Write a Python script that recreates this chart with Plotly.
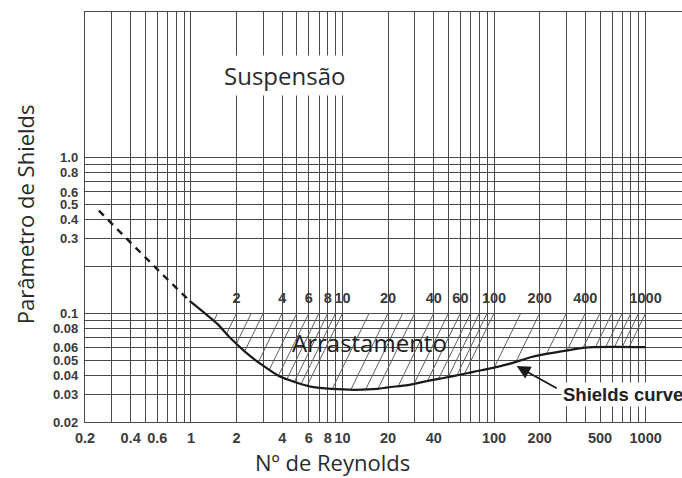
import numpy as np
import plotly.graph_objects as go

# --- Shields curve (critical Shields parameter vs. particle Reynolds number) ---
# dashed, extrapolated part at low Reynolds numbers
dashed_re = [0.247, 0.39, 0.62, 0.98]
dashed_tau = [0.455, 0.29, 0.185, 0.12]

# solid, measured part
curve_re = [0.98, 1.25, 1.5, 1.8, 2.3, 2.9, 3.8, 4.9, 6.3, 8.5, 12, 17, 20, 27,
            34, 44, 56, 73, 93, 126, 180, 300, 420, 1000]
curve_tau = [0.12, 0.099, 0.085, 0.070, 0.056, 0.047, 0.0395, 0.036, 0.0336, 0.0326,
             0.0322, 0.0326, 0.0334, 0.0345, 0.0362, 0.038, 0.0397, 0.042, 0.0440,
             0.0472, 0.0525, 0.0575, 0.0603, 0.0605]

# lines of constant sediment-fluid parameter; each one passes through (P, 0.1)
param_values = [1.5, 2, 2.5, 3, 4, 5, 6, 7, 8, 9, 10, 15, 20, 25, 30, 40, 50, 60,
                70, 80, 90, 100, 150, 200, 300, 400, 500, 600, 700, 800, 900, 1000]
param_labels = [2, 4, 6, 8, 10, 20, 40, 60, 100, 200, 400, 1000]
param_label_tau = 0.122

# axis ticks / grid
x_tickvals = [0.2, 0.3, 0.4, 0.5, 0.6, 0.7, 0.8, 0.9, 1, 2, 3, 4, 5, 6, 7, 8, 9,
              10, 20, 30, 40, 50, 60, 70, 80, 90, 100, 200, 300, 400, 500, 600,
              700, 800, 900, 1000]
x_ticktext = ["0.2", "", "0.4", "", "0.6", "", "", "", "1", "2", "", "4", "", "6",
              "", "8", "", "10", "20", "", "40", "", "", "", "", "", "100", "200",
              "", "", "500", "", "", "", "", "1000"]
y_tickvals = [0.02, 0.03, 0.04, 0.05, 0.06, 0.07, 0.08, 0.09, 0.1, 0.2, 0.3, 0.4,
              0.5, 0.6, 0.7, 0.8, 0.9, 1.0]
y_ticktext = ["0.02", "0.03", "0.04", "0.05", "0.06", "", "0.08", "", "0.1", "",
              "0.3", "0.4", "0.5", "0.6", "", "0.8", "", "1.0"]

GRID = "#4a4a4a"
TICKFONT = dict(family="Liberation Sans, Arial", size=14.5, color="#3a3a3a", weight="bold")
YTICKFONT = dict(family="Liberation Sans, Arial", size=13, color="#3a3a3a", weight="bold")
TEXTFONT = "Open Sans, Noto Sans, sans-serif"

fig = go.Figure()

# hatch lines: tau = 0.1 * (Re / P)^2, from the curve up to tau = 0.1
lre_c = np.log10(curve_re)
ltau_c = np.log10(curve_tau)
for p in param_values:
    lre = np.linspace(np.log10(p) - 0.6, np.log10(p), 400)
    ltau_line = -1.0 + 2.0 * (lre - np.log10(p))
    ltau_curve = np.interp(lre, lre_c, ltau_c)
    above = ltau_line >= ltau_curve
    if not above.any():
        continue
    i0 = np.argmax(above)
    fig.add_trace(go.Scatter(
        x=[10 ** lre[i0], p], y=[10 ** ltau_line[i0], 0.1],
        mode="lines", line=dict(color="#585858", width=0.95),
        hoverinfo="skip", showlegend=False))

fig.add_trace(go.Scatter(
    x=dashed_re, y=dashed_tau, mode="lines",
    line=dict(color="#1a1a1a", width=2.4, dash="7px,6px"),
    showlegend=False))
fig.add_trace(go.Scatter(
    x=curve_re, y=curve_tau, mode="lines",
    line=dict(color="#1a1a1a", width=2.2, shape="spline", smoothing=0.8),
    showlegend=False))

# labels of the constant-parameter lines
fig.add_trace(go.Scatter(
    x=param_labels, y=[param_label_tau] * len(param_labels), mode="text",
    text=[str(v) for v in param_labels],
    textfont=TICKFONT, textposition="middle center",
    showlegend=False, hoverinfo="skip"))

axis_common = dict(
    type="log", showgrid=True, gridcolor=GRID, gridwidth=1.4,
    showline=True, linecolor=GRID, linewidth=1.4,
    ticks="", zeroline=False,
)

fig.update_xaxes(
    **axis_common, range=[np.log10(0.2), 3.24], mirror=True,
    tickmode="array", tickvals=x_tickvals, ticktext=x_ticktext,
    tickfont=TICKFONT, tickangle=0, ticklabelstandoff=2,
)
fig.update_yaxes(
    **axis_common, range=[np.log10(0.02), 0.934],
    tickmode="array", tickvals=y_tickvals, ticktext=y_ticktext,
    tickfont=YTICKFONT, ticklabelstandoff=3,
)

fig.add_annotation(
    text="Suspensão", xref="paper", yref="paper", x=0.335, y=0.846,
    xanchor="center", yanchor="middle",
    showarrow=False, font=dict(family=TEXTFONT, size=24, color="#2a2a2a"),
    bgcolor="white", borderpad=3,
)
fig.add_annotation(
    text="Arrastamento", xref="paper", yref="paper", x=0.477, y=0.195,
    xanchor="center", yanchor="middle",
    showarrow=False, font=dict(family=TEXTFONT, size=24, color="#1e1e1e"),
)
fig.add_annotation(
    text="<b>Shields curve</b>", xref="paper", yref="paper", x=0.797, y=0.066,
    xanchor="left", yanchor="middle", showarrow=False,
    font=dict(family="Liberation Sans, Arial", size=18.5, color="#222222"),
    bgcolor="white", borderpad=1,
)
# arrow pointing at the curve (log10 coordinates on log axes)
fig.add_annotation(
    text="", x=np.log10(141), y=np.log10(0.0458), xref="x", yref="y",
    ax=np.log10(265), ay=np.log10(0.0325), axref="x", ayref="y",
    showarrow=True, arrowhead=2, arrowsize=1.5, arrowwidth=1.8,
    arrowcolor="#1a1a1a",
)

# axis titles
fig.add_annotation(
    text="Nº de Reynolds", xref="paper", yref="paper", x=0.415, y=-0.098,
    xanchor="center", yanchor="middle", showarrow=False,
    font=dict(family=TEXTFONT, size=22, color="#2a2a2a"),
)
fig.add_annotation(
    text="Parâmetro de Shields", xref="paper", yref="paper", x=-0.1005, y=0.507,
    xanchor="center", yanchor="middle", textangle=-90, showarrow=False,
    font=dict(family=TEXTFONT, size=22, color="#2a2a2a"),
)

fig.update_layout(
    width=682, height=478,
    margin=dict(l=85, r=0, t=12, b=56, autoexpand=False),
    paper_bgcolor="white", plot_bgcolor="white",
    showlegend=False,
)

fig.write_html("out.html")
